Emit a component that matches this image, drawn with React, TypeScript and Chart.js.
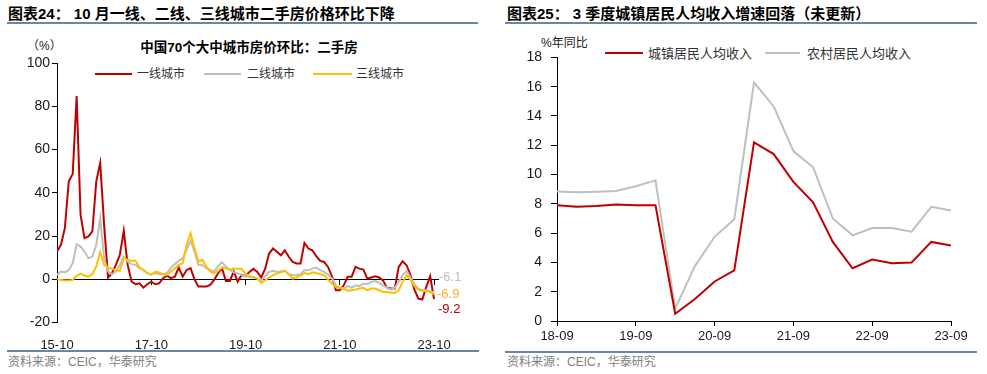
import React, { useEffect, useRef } from 'react';
import { Chart, registerables } from 'chart.js';

Chart.register(...registerables);

const LATIN = "'Liberation Sans', Arial, sans-serif";
const MIXED = "'Liberation Sans', Arial, 'Noto Sans CJK SC', sans-serif";

const RED = '#C00000';
const GRAY = '#BFBFBF';
const YELLOW = '#FFC000';
const RULE = '#6A86A6';
const TEXT = '#1a1a1a';

// ---------- Left panel data ----------
const leftTitle = '图表24： 10 月一线、二线、三线城市二手房价格环比下降';
const leftChartTitle = '中国70个大中城市房价环比：二手房';
const leftUnit = '（%）';
const leftSeriesNames = ['一线城市', '二线城市', '三线城市'];
const leftColors = [RED, GRAY, YELLOW];

// monthly, 2015-10 .. 2023-10
const tier1 = [
  12.8, 15.9, 23.6, 45.3, 48.7, 84.7, 29.8, 19, 19.8, 22.1,
  45.3, 53.8, 25, 0.8, 2.8, 6.6, 11.3, 22.4, 6.6, -1.1,
  -2.3, -1.9, -3.9, -2.3, -1.1, -2.3, -1.9, 0.5, 1.7, 0.5,
  1.2, 5.4, 1.2, 4.3, 5.1, 0, -3.4, -3.4, -3.4, -2.6,
  -0.3, 2.8, 5.1, -0.8, -0.8, 3.6, -1.1, 2, 1.5, 3.4,
  4.8, 3.4, 0.8, 4.9, 11.9, 14.2, 12.7, 11.1, 13.4, 10.4,
  8, 7.3, 7.3, 16.8, 14.2, 13.4, 10.7, 8.5, 8, 5.7,
  1.4, -5.1, -5.1, -2.8, 1.1, 1.1, 5.7, 4.9, 4.5, 0.3,
  0.8, 1.4, 0.8, -0.5, -3.9, -4.3, -4.3, 5.7, 8.3, 6.5,
  1.9, -4.8, -9, -9.4, -3.6, 1.4, -9.2,
];
const tier2 = [
  2, 3.6, 3.2, 4.3, 7.4, 16.2, 15.1, 12.8, 9.7, 10.5,
  15.9, 28.3, 9.7, 3.6, 2.3, 3.6, 6.6, 10.5, 8.2, 7,
  6.6, 5.1, 4.3, 2.8, 2.3, 2.8, 2.3, 2.3, 2.8, 5.4,
  7, 8.5, 9.7, 13.6, 17.8, 12.8, 6.6, 6.6, 5.1, 4.3,
  3.6, 5.9, 7.9, 5.9, 4.3, 3.2, 2.8, 2, 1.4, 1.1,
  0.8, 0.3, -0.5, 1.4, 3.4, 3.9, 3.4, 3.7, 3.9, 2.3,
  1.9, 2, 2.3, 4.2, 4.2, 4.9, 5.4, 4.2, 3.4, 2.3,
  0.3, -2.8, -4, -4.3, -3.2, -3.9, -2.8, -3.2, -2, -2.3,
  -1.2, -0.8, -1.7, -2.8, -3.9, -4.8, -3.9, -1.2, 1.9, 3.9,
  0.8, -2.3, -4.3, -5.1, -5.1, -5.4, -6.1,
];
const tier3 = [
  0, -0.3, -0.6, -0.6, -0.3, 1.7, 2.6, 1.7, 1.2, 2.3,
  5.9, 12.5, 6.6, 5.4, 4.8, 4.2, 3.9, 9.7, 9, 8.5,
  8.5, 5.4, 4.3, 2.8, 2, 3.6, 3.2, 2.3, 2, 3.6,
  5.1, 6.6, 7.4, 15.9, 21.3, 14.4, 8.2, 9, 5.9, 3.6,
  2.8, 3.9, 5.4, 5.1, 4.3, 5.1, 4.8, 4.8, 2.5, 1.4,
  1.1, 0.3, -1.7, -0.5, 0.8, 1.9, 2.6, 3.2, 3.9, 2.3,
  0.3, 0.8, 1.7, 2.9, 2.3, 3.2, 2.9, 2.3, 2, -0.2,
  -2, -3.6, -4, -4.3, -5.4, -5.1, -4.8, -4.3, -3.9, -5.1,
  -4.3, -4.3, -5.1, -5.9, -5.9, -6.2, -6.2, -5.1, -1.2, 1.9,
  -0.2, -3.2, -4.8, -5.4, -5.4, -5.9, -6.9,
];
const leftSeries = [tier1, tier2, tier3];
const months = tier1.map((_, i) => {
  const m = 9 + i;
  const y = 15 + Math.floor(m / 12);
  return `${y}-${String((m % 12) + 1).padStart(2, '0')}`;
});
const leftTickLabels = ['15-10', '17-10', '19-10', '21-10', '23-10'];
const leftYTicks = [-20, 0, 20, 40, 60, 80, 100];

// ---------- Right panel data ----------
const rightTitle = '图表25： 3 季度城镇居民人均收入增速回落（未更新）';
const rightUnit = '%年同比';
const rightSeriesNames = ['城镇居民人均收入', '农村居民人均收入'];
const rightColors = [RED, GRAY];
const quarters = [
  '18-09', '18-12', '19-03', '19-06', '19-09', '19-12', '20-03', '20-06', '20-09', '20-12',
  '21-03', '21-06', '21-09', '21-12', '22-03', '22-06', '22-09', '22-12', '23-03', '23-06', '23-09',
];
const urbanIncome = [7.9, 7.8, 7.85, 7.95, 7.9, 7.9, 0.5, 1.5, 2.7, 3.45, 12.2, 11.4, 9.5, 8.1, 5.4, 3.6, 4.2, 3.95, 4.0, 5.4, 5.15];
const ruralIncome = [8.85, 8.8, 8.83, 8.88, 9.2, 9.6, 0.85, 3.75, 5.75, 6.95, 16.3, 14.65, 11.6, 10.5, 7.0, 5.85, 6.35, 6.35, 6.1, 7.8, 7.55];
const rightSeries = [urbanIncome, ruralIncome];
const rightTickLabels = ['18-09', '19-09', '20-09', '21-09', '22-09', '23-09'];
const rightYTicks = [0, 2, 4, 6, 8, 10, 12, 14, 16, 18];

const source = '资料来源：CEIC，华泰研究';

const toXY = (arr: number[]) => arr.map((v, i) => ({ x: i, y: v }));

function LeftChart() {
  const ref = useRef<HTMLCanvasElement>(null);
  useEffect(() => {
    const tickIdx = leftTickLabels.map((l) => months.indexOf(l));
    const setX = (s: any) => {
      s.ticks = tickIdx.map((v) => ({ value: v }));
    };
    const chart = new Chart(ref.current!, {
      type: 'line',
      data: {
        datasets: leftSeries.map((d, k) => ({
          label: leftSeriesNames[k],
          data: toXY(d),
          borderColor: leftColors[k],
          backgroundColor: leftColors[k],
          borderWidth: 2,
          pointRadius: 0,
          tension: 0,
          xAxisID: 'x',
          yAxisID: 'y',
          order: 2 - k,
        })),
      },
      options: {
        animation: false,
        responsive: false,
        maintainAspectRatio: false,
        layout: { padding: { left: 0, top: 23, right: 52, bottom: 0 } },
        plugins: { legend: { display: false }, tooltip: { enabled: false } },
        scales: {
          x: {
            type: 'linear',
            position: 'bottom',
            min: 0,
            max: months.length,
            afterBuildTicks: setX,
            afterFit: (s: any) => {
              s.height = 27.5;
            },
            ticks: {
              callback: (v: any) => months[v],
              font: { family: LATIN, size: 13 },
              color: TEXT,
              padding: 7,
              maxRotation: 0,
              autoSkip: false,
            },
            grid: { display: false },
            border: { display: false },
          },
          x0: {
            type: 'linear',
            axis: 'x',
            position: { y: 0 },
            min: 0,
            max: months.length,
            afterBuildTicks: setX,
            ticks: { display: false },
            grid: { drawOnChartArea: false, drawTicks: true, tickLength: 5, color: '#000', lineWidth: 1 },
            border: { display: true, color: '#000', width: 1 },
          },
          y: {
            min: -20,
            max: 100,
            afterBuildTicks: (s: any) => {
              s.ticks = leftYTicks.map((v) => ({ value: v }));
            },
            afterFit: (s: any) => {
              s.width = 57;
            },
            ticks: { font: { family: LATIN, size: 14 }, color: TEXT, padding: 2 },
            grid: { drawOnChartArea: false, tickLength: 5, color: '#000' },
            border: { color: '#000', width: 1 },
          },
        },
      },
    } as any);
    return () => chart.destroy();
  }, []);
  return (
    <canvas
      ref={ref}
      width={490}
      height={310}
      style={{ position: 'absolute', left: 0, top: 40, width: 490, height: 310 }}
    />
  );
}

function RightChart() {
  const ref = useRef<HTMLCanvasElement>(null);
  useEffect(() => {
    const tickIdx = rightTickLabels.map((l) => quarters.indexOf(l));
    const chart = new Chart(ref.current!, {
      type: 'line',
      data: {
        datasets: rightSeries.map((d, k) => ({
          label: rightSeriesNames[k],
          data: toXY(d),
          borderColor: rightColors[k],
          backgroundColor: rightColors[k],
          borderWidth: 2,
          pointRadius: 0,
          tension: 0,
          order: k,
        })),
      },
      options: {
        animation: false,
        responsive: false,
        maintainAspectRatio: false,
        layout: { padding: { left: 0, top: 15.7, right: 36, bottom: 0 } },
        plugins: { legend: { display: false }, tooltip: { enabled: false } },
        scales: {
          x: {
            type: 'linear',
            min: 0,
            max: quarters.length - 1,
            afterBuildTicks: (s: any) => {
              s.ticks = tickIdx.map((v) => ({ value: v }));
            },
            afterFit: (s: any) => {
              s.height = 29;
            },
            ticks: {
              callback: (v: any) => quarters[v],
              font: { family: LATIN, size: 13 },
              color: TEXT,
              padding: 3,
              maxRotation: 0,
              autoSkip: false,
            },
            grid: { drawOnChartArea: false, tickLength: 5, color: '#000' },
            border: { color: '#000', width: 1 },
          },
          y: {
            min: 0,
            max: 18,
            afterBuildTicks: (s: any) => {
              s.ticks = rightYTicks.map((v) => ({ value: v }));
            },
            afterFit: (s: any) => {
              s.width = 67;
            },
            ticks: { font: { family: LATIN, size: 14 }, color: TEXT, padding: 9 },
            grid: { drawOnChartArea: false, tickLength: 6, color: '#000' },
            border: { color: '#000', width: 1 },
          },
        },
      },
    } as any);
    return () => chart.destroy();
  }, []);
  return (
    <canvas
      ref={ref}
      width={497}
      height={310}
      style={{ position: 'absolute', left: 490, top: 40, width: 497, height: 310 }}
    />
  );
}

const abs = (left: number, cy: number, size: number, extra: React.CSSProperties = {}): React.CSSProperties => ({
  position: 'absolute',
  left,
  top: cy - (size + 6) / 2,
  fontSize: size,
  lineHeight: `${size + 6}px`,
  whiteSpace: 'nowrap',
  fontFamily: MIXED,
  color: TEXT,
  ...extra,
});

function LegendItem({ x1, x2, tx, cy, color, label, size }: any) {
  return (
    <>
      <div style={{ position: 'absolute', left: x1, top: cy - 1, width: x2 - x1, height: 2, background: color }} />
      <div style={abs(tx, cy, size, { color: '#333' })}>{label}</div>
    </>
  );
}

export default function App() {
  const endLabels = [
    { v: tier2[tier2.length - 1], color: GRAY, x: 439, cy: 276 },
    { v: tier3[tier3.length - 1], color: '#F2B230', x: 437, cy: 293 },
    { v: tier1[tier1.length - 1], color: RED, x: 438, cy: 308 },
  ];
  const leftLegend = [
    { x1: 95, x2: 132, tx: 137 },
    { x1: 204, x2: 241, tx: 247 },
    { x1: 313, x2: 352, tx: 356 },
  ];
  const rightLegend = [
    { x1: 605, x2: 643, tx: 648 },
    { x1: 765, x2: 800, tx: 807 },
  ];
  return (
    <div style={{ position: 'absolute', left: 0, top: 0, width: 987, height: 374, background: '#fff', overflow: 'hidden' }}>
      {/* left panel */}
      <div style={abs(8, 13, 15, { fontWeight: 'bold', color: '#000' })}>{leftTitle}</div>
      <div style={{ position: 'absolute', left: 7, top: 22, width: 471, height: 2, background: RULE }} />
      <div style={abs(27, 46, 12)}>{leftUnit}</div>
      <div style={abs(249, 48, 13.5, { fontWeight: 'bold', transform: 'translateX(-50%)', color: '#000' })}>{leftChartTitle}</div>
      {leftLegend.map((p, k) => (
        <LegendItem key={k} {...p} cy={74} size={12} color={leftColors[k]} label={leftSeriesNames[k]} />
      ))}
      <LeftChart />
      {endLabels.map((e, k) => (
        <div key={k} style={abs(e.x, e.cy, 13, { color: e.color, fontFamily: LATIN })}>
          {e.v.toFixed(1)}
        </div>
      ))}
      <div style={{ position: 'absolute', left: 7, top: 350, width: 472, height: 2, background: RULE }} />
      <div style={abs(8, 362, 12, { color: '#808080' })}>{source}</div>

      {/* right panel */}
      <div style={abs(507, 13, 15, { fontWeight: 'bold', color: '#000' })}>{rightTitle}</div>
      <div style={{ position: 'absolute', left: 505, top: 22, width: 472, height: 2, background: RULE }} />
      <div style={abs(541, 43, 12)}>{rightUnit}</div>
      {rightLegend.map((p, k) => (
        <LegendItem key={k} {...p} cy={53} size={13} color={rightColors[k]} label={rightSeriesNames[k]} />
      ))}
      <RightChart />
      <div style={{ position: 'absolute', left: 505, top: 351, width: 472, height: 2, background: RULE }} />
      <div style={abs(507, 362, 12, { color: '#808080' })}>{source}</div>
    </div>
  );
}
